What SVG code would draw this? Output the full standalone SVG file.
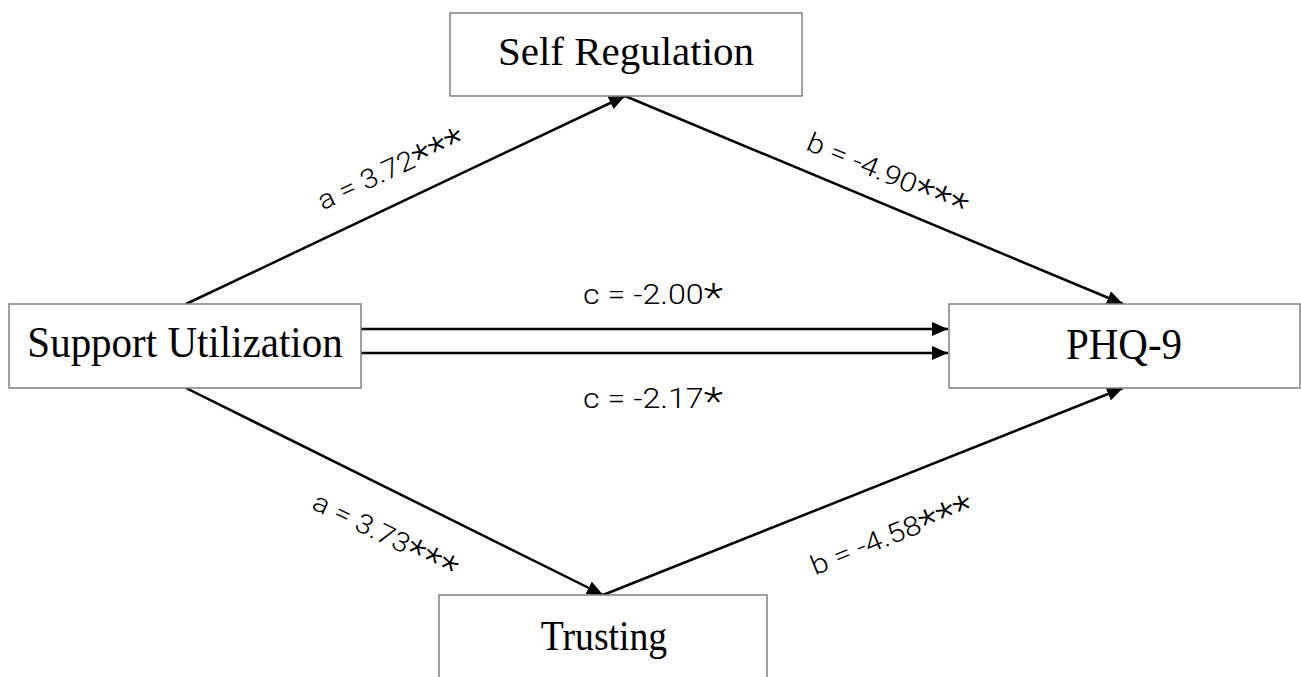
<svg xmlns="http://www.w3.org/2000/svg" width="1301" height="677" viewBox="0 0 1301 677">
<style>
.box{fill:#fff;stroke:#808080;stroke-width:1.5}
.nt{font-family:"Liberation Serif","Times New Roman",serif;font-size:41px;fill:#000;text-anchor:middle}
.edge{stroke:#000;stroke-width:2.5;fill:none;marker-end:url(#ah)}
.lb{font-family:Roboto,"Liberation Sans",sans-serif;font-weight:300;font-size:27px;fill:#000;text-anchor:middle}
.st{font-size:38px;font-weight:300}
</style>
<defs>
<marker id="ah" markerUnits="userSpaceOnUse" markerWidth="18" markerHeight="14" refX="16" refY="7" orient="auto">
<path d="M0,0 L16,7 L0,14 z" fill="#000"/>
</marker>
</defs>
<rect width="1301" height="677" fill="#fff"/>
<g id="connectors">
<line class="edge" x1="186" y1="304" x2="625" y2="96"/>
<line class="edge" x1="625" y1="96" x2="1123" y2="304"/>
<line class="edge" x1="361" y1="329" x2="948" y2="329"/>
<line class="edge" x1="361" y1="353" x2="948" y2="353"/>
<line class="edge" x1="186" y1="388" x2="603" y2="595"/>
<line class="edge" x1="603" y1="595" x2="1123" y2="388"/>
<text class="lb" x="653" y="304" textLength="140" lengthAdjust="spacingAndGlyphs">c = -2.00<tspan class="st" dy="7">*</tspan></text>
<text class="lb" x="653" y="408" textLength="140" lengthAdjust="spacingAndGlyphs">c = -2.17<tspan class="st" dy="7">*</tspan></text>
<text class="lb" transform="translate(390,168) rotate(-25)" x="0" y="10" textLength="158" lengthAdjust="spacingAndGlyphs">a = 3.72<tspan class="st" dy="7">***</tspan></text>
<text class="lb" transform="translate(888,173) rotate(22.5)" x="0" y="10" textLength="172" lengthAdjust="spacingAndGlyphs">b = -4.90<tspan class="st" dy="7">***</tspan></text>
<text class="lb" transform="translate(386,534) rotate(26)" x="0" y="10" textLength="158" lengthAdjust="spacingAndGlyphs">a = 3.73<tspan class="st" dy="7">***</tspan></text>
<text class="lb" transform="translate(891,534) rotate(-22)" x="0" y="10" textLength="172" lengthAdjust="spacingAndGlyphs">b = -4.58<tspan class="st" dy="7">***</tspan></text>
</g>
<g id="self-regulation">
<rect class="box" x="450" y="13" width="352" height="83"/>
<text class="nt" x="626" y="65">Self Regulation</text>
</g>
<g id="support-utilization">
<rect class="box" x="9" y="304" width="352" height="84"/>
<text class="nt" transform="translate(185,357) scale(1,1.1)" x="0" y="0">Support Utilization</text>
</g>
<g id="phq9">
<rect class="box" x="949" y="304" width="351" height="84"/>
<text class="nt" transform="translate(1124,359) scale(1,1.07)" x="0" y="0">PHQ-9</text>
</g>
<g id="trusting">
<rect class="box" x="439" y="595" width="328" height="100"/>
<text class="nt" transform="translate(604,650) scale(0.92,1.03)" x="0" y="0">Trusting</text>
</g>
</svg>
